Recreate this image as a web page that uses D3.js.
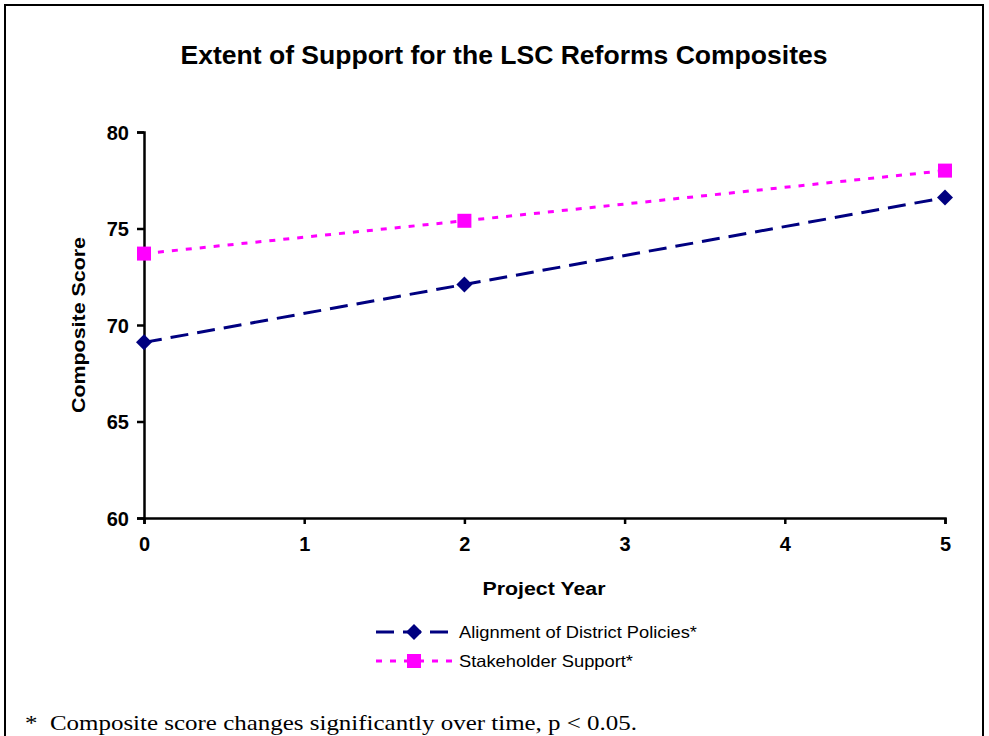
<!DOCTYPE html>
<html>
<head>
<meta charset="utf-8">
<script src="https://cdn.jsdelivr.net/npm/d3@7"></script>
<style>
  html, body { margin: 0; padding: 0; background: #fff; }
  svg { display: block; }
</style>
</head>
<body>
<svg id="chart" width="989" height="736"></svg>
<script>
// Project years and composite scores per series
const years = [0, 2, 5];
const alignmentScores = [69.1, 72.1, 76.6];
const stakeholderScores = [73.7, 75.4, 78.0];
const xTicks = [0, 1, 2, 3, 4, 5];
const yTicks = [60, 65, 70, 75, 80];
const seriesNames = ["Alignment of District Policies*", "Stakeholder Support*"];

const svg = d3.select("#chart");
const SANS = "Liberation Sans, Arial, sans-serif";

// Outer frame
svg.append("rect")
  .attr("x", 5).attr("y", 5)
  .attr("width", 978).attr("height", 760)
  .attr("fill", "none").attr("stroke", "#000").attr("stroke-width", 2);

const x = d3.scaleLinear().domain([0, 5]).range([144, 945]);
const y = d3.scaleLinear().domain([60, 80]).range([518, 132]);

// Title
svg.append("text")
  .attr("x", 504).attr("y", 64)
  .attr("text-anchor", "middle")
  .attr("font-family", SANS)
  .attr("font-weight", "bold").attr("font-size", 25)
  .attr("textLength", 647).attr("lengthAdjust", "spacingAndGlyphs")
  .text("Extent of Support for the LSC Reforms Composites");

// Axes
const yAxis = svg.append("g")
  .attr("transform", "translate(144,0)")
  .call(d3.axisLeft(y).tickValues(yTicks).tickSize(7).tickPadding(8).tickFormat(d3.format("d")));
const xAxis = svg.append("g")
  .attr("transform", "translate(0,518)")
  .call(d3.axisBottom(x).tickValues(xTicks).tickSize(6).tickPadding(13).tickFormat(d3.format("d")));

[yAxis, xAxis].forEach(g => {
  g.attr("font-size", null).attr("font-family", null);
  g.select(".domain").attr("stroke", "#000").attr("stroke-width", 2.5);
  g.selectAll(".tick line").attr("stroke", "#000").attr("stroke-width", 2.5);
  g.selectAll(".tick text")
    .attr("fill", "#000")
    .style("font-family", SANS)
    .style("font-weight", "bold").style("font-size", "20px");
});
yAxis.selectAll(".tick text").attr("dy", "0.36em");

// Axis titles
svg.append("text")
  .attr("x", 544).attr("y", 595)
  .attr("text-anchor", "middle")
  .attr("font-family", SANS)
  .attr("font-weight", "bold").attr("font-size", 18)
  .attr("textLength", 123).attr("lengthAdjust", "spacingAndGlyphs")
  .text("Project Year");
svg.append("text")
  .attr("transform", "translate(85,325) rotate(-90)")
  .attr("text-anchor", "middle")
  .attr("font-family", SANS)
  .attr("font-weight", "bold").attr("font-size", 18.5)
  .attr("textLength", 176).attr("lengthAdjust", "spacingAndGlyphs")
  .text("Composite Score");

const series = [
  { name: seriesNames[0], values: alignmentScores, color: "#000080", dash: "18,9", width: 3, shape: "diamond", textLen: 238 },
  { name: seriesNames[1], values: stakeholderScores, color: "#FF00FF", dash: "6,8", width: 3, shape: "square", textLen: 174 }
];

const line = d3.line().x((d, i) => x(years[i])).y(d => y(d));

function marker(g, shape, color) {
  if (shape === "diamond") {
    g.append("path").attr("d", "M0,-8L8,0L0,8L-8,0Z").attr("fill", color);
  } else {
    g.append("rect").attr("x", -7).attr("y", -7).attr("width", 14).attr("height", 14).attr("fill", color);
  }
}

series.forEach(s => {
  svg.append("path")
    .datum(s.values)
    .attr("d", line)
    .attr("fill", "none")
    .attr("stroke", s.color)
    .attr("stroke-width", s.width)
    .attr("stroke-dasharray", s.dash);
  s.values.forEach((v, i) => {
    const g = svg.append("g").attr("transform", `translate(${x(years[i])},${y(v)})`);
    marker(g, s.shape, s.color);
  });
});

// Legend
series.forEach((s, i) => {
  const ly = 632 + i * 29;
  svg.append("line")
    .attr("x1", 376).attr("x2", 452).attr("y1", ly).attr("y2", ly)
    .attr("stroke", s.color).attr("stroke-width", s.width)
    .attr("stroke-dasharray", s.dash);
  const g = svg.append("g").attr("transform", `translate(414,${ly})`);
  marker(g, s.shape, s.color);
  svg.append("text")
    .attr("x", 459).attr("y", ly + 6)
    .attr("font-family", SANS)
    .attr("font-size", 16.5)
    .attr("textLength", s.textLen).attr("lengthAdjust", "spacingAndGlyphs")
    .text(s.name);
});

// Footnote
svg.append("text")
  .attr("x", 25).attr("y", 730)
  .attr("font-family", "Liberation Serif, Times New Roman, serif")
  .attr("font-size", 21.5)
  .attr("textLength", 612).attr("lengthAdjust", "spacingAndGlyphs")
  .attr("xml:space", "preserve")
  .text("*  Composite score changes significantly over time, p < 0.05.");
</script>
</body>
</html>
